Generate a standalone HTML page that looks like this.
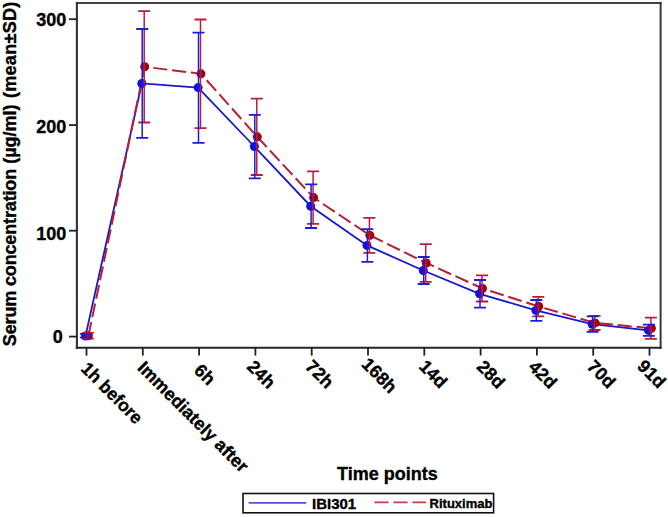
<!DOCTYPE html>
<html><head><meta charset="utf-8"><style>
html,body{margin:0;padding:0;background:#fff;}
body{width:668px;height:517px;overflow:hidden;}
svg{display:block;}
text{font-family:"Liberation Sans",sans-serif;font-weight:bold;fill:#000;stroke:#000;stroke-width:0.35px;}
.tk{font-size:18px;}
.yl{font-size:18px;}
.xl{font-size:18px;}
.l1{font-size:15px;}
.l2{font-size:13px;}
</style></head><body>
<svg width="668" height="517" viewBox="0 0 668 517">
<path d="M75.8,3.1H661.7" stroke="#444" stroke-width="2" fill="none"/>
<path d="M76.9,2.1V348.7" stroke="#333" stroke-width="2.1" fill="none"/>
<path d="M660.6,2.1V348.7" stroke="#383838" stroke-width="2" fill="none"/>
<path d="M75.8,347.8H661.6" stroke="#262626" stroke-width="2" fill="none"/>
<line x1="69" y1="19.2" x2="77" y2="19.2" stroke="#222" stroke-width="1.8"/>
<text x="66.2" y="25.5" text-anchor="end" class="tk">300</text>
<line x1="69" y1="125.1" x2="77" y2="125.1" stroke="#222" stroke-width="1.8"/>
<text x="66.2" y="132.7" text-anchor="end" class="tk">200</text>
<line x1="69" y1="230.7" x2="77" y2="230.7" stroke="#222" stroke-width="1.8"/>
<text x="66.2" y="239.7" text-anchor="end" class="tk">100</text>
<line x1="69" y1="336.6" x2="77" y2="336.6" stroke="#222" stroke-width="1.8"/>
<text x="62.8" y="343.2" text-anchor="end" class="tk">0</text>
<line x1="86.50" y1="347" x2="86.50" y2="355.6" stroke="#222" stroke-width="1.8"/>
<line x1="142.80" y1="347" x2="142.80" y2="355.6" stroke="#222" stroke-width="1.8"/>
<line x1="199.10" y1="347" x2="199.10" y2="355.6" stroke="#222" stroke-width="1.8"/>
<line x1="255.40" y1="347" x2="255.40" y2="355.6" stroke="#222" stroke-width="1.8"/>
<line x1="311.70" y1="347" x2="311.70" y2="355.6" stroke="#222" stroke-width="1.8"/>
<line x1="368.00" y1="347" x2="368.00" y2="355.6" stroke="#222" stroke-width="1.8"/>
<line x1="424.30" y1="347" x2="424.30" y2="355.6" stroke="#222" stroke-width="1.8"/>
<line x1="480.60" y1="347" x2="480.60" y2="355.6" stroke="#222" stroke-width="1.8"/>
<line x1="536.90" y1="347" x2="536.90" y2="355.6" stroke="#222" stroke-width="1.8"/>
<line x1="593.20" y1="347" x2="593.20" y2="355.6" stroke="#222" stroke-width="1.8"/>
<line x1="649.50" y1="347" x2="649.50" y2="355.6" stroke="#222" stroke-width="1.8"/>
<text transform="translate(83.50,358.00) rotate(45)" x="5.9" y="0" dy="10.7" class="tk" textLength="78.2" lengthAdjust="spacingAndGlyphs">1h before</text>
<text transform="translate(139.80,357.00) rotate(45)" x="5.9" y="0" dy="10.7" class="tk">Immediately after</text>
<text transform="translate(196.50,359.70) rotate(45)" x="5.9" y="0" dy="10.7" class="tk">6h</text>
<text transform="translate(249.40,356.00) rotate(45)" x="5.9" y="0" dy="10.7" class="tk">24h</text>
<text transform="translate(307.70,355.80) rotate(45)" x="5.9" y="0" dy="10.7" class="tk">72h</text>
<text transform="translate(364.00,353.50) rotate(45)" x="5.9" y="0" dy="10.7" class="tk">168h</text>
<text transform="translate(421.30,355.70) rotate(45)" x="5.9" y="0" dy="10.7" class="tk">14d</text>
<text transform="translate(479.10,356.00) rotate(45)" x="5.9" y="0" dy="10.7" class="tk">28d</text>
<text transform="translate(530.90,356.20) rotate(45)" x="5.9" y="0" dy="10.7" class="tk">42d</text>
<text transform="translate(589.50,355.80) rotate(45)" x="5.9" y="0" dy="10.7" class="tk">70d</text>
<text transform="translate(639.70,355.60) rotate(45)" x="5.9" y="0" dy="10.7" class="tk">91d</text>
<polyline points="85.50,336.00 141.80,83.45 198.10,87.60 254.40,146.50 310.70,206.20 367.00,245.40 423.30,270.50 479.60,293.80 535.90,310.40 592.20,324.20 648.50,330.40" stroke="#1818cc" stroke-width="1.8" fill="none"/>
<polyline points="88.40,335.80 144.70,66.80 201.00,73.85 257.30,136.85 313.60,197.60 369.90,235.35 426.20,262.95 482.50,288.45 538.80,306.55 595.10,322.90 651.40,328.30" stroke="#b8202e" stroke-width="2.0" fill="none" stroke-dasharray="14.1 4.8" stroke-dashoffset="0"/>
<circle cx="85.50" cy="336.00" r="4.5" fill="#1010d8"/>
<circle cx="141.80" cy="83.45" r="4.5" fill="#1010d8"/>
<circle cx="198.10" cy="87.60" r="4.5" fill="#1010d8"/>
<circle cx="254.40" cy="146.50" r="4.5" fill="#1010d8"/>
<circle cx="310.70" cy="206.20" r="4.5" fill="#1010d8"/>
<circle cx="367.00" cy="245.40" r="4.5" fill="#1010d8"/>
<circle cx="423.30" cy="270.50" r="4.5" fill="#1010d8"/>
<circle cx="479.60" cy="293.80" r="4.5" fill="#1010d8"/>
<circle cx="535.90" cy="310.40" r="4.5" fill="#1010d8"/>
<circle cx="592.20" cy="324.20" r="4.5" fill="#1010d8"/>
<circle cx="648.50" cy="330.40" r="4.5" fill="#1010d8"/>
<circle cx="88.40" cy="335.80" r="4.5" fill="#a00010"/>
<circle cx="144.70" cy="66.80" r="4.5" fill="#a00010"/>
<circle cx="201.00" cy="73.85" r="4.5" fill="#a00010"/>
<circle cx="257.30" cy="136.85" r="4.5" fill="#a00010"/>
<circle cx="313.60" cy="197.60" r="4.5" fill="#a00010"/>
<circle cx="369.90" cy="235.35" r="4.5" fill="#a00010"/>
<circle cx="426.20" cy="262.95" r="4.5" fill="#a00010"/>
<circle cx="482.50" cy="288.45" r="4.5" fill="#a00010"/>
<circle cx="538.80" cy="306.55" r="4.5" fill="#a00010"/>
<circle cx="595.10" cy="322.90" r="4.5" fill="#a00010"/>
<circle cx="651.40" cy="328.30" r="4.5" fill="#a00010"/>
<path d="M87.90,332.80V338.70" stroke="#bc1c38" stroke-width="1.5" fill="none"/>
<path d="M81.90,332.80H93.90M81.90,338.70H93.90" stroke="#bc1c38" stroke-width="1.8" fill="none"/>
<path d="M144.20,11.20V122.50" stroke="#bc1c38" stroke-width="1.5" fill="none"/>
<path d="M138.20,11.20H150.20M138.20,122.50H150.20" stroke="#bc1c38" stroke-width="1.8" fill="none"/>
<path d="M200.50,19.50V128.20" stroke="#bc1c38" stroke-width="1.5" fill="none"/>
<path d="M194.50,19.50H206.50M194.50,128.20H206.50" stroke="#bc1c38" stroke-width="1.8" fill="none"/>
<path d="M256.80,98.70V175.00" stroke="#bc1c38" stroke-width="1.5" fill="none"/>
<path d="M250.80,98.70H262.80M250.80,175.00H262.80" stroke="#bc1c38" stroke-width="1.8" fill="none"/>
<path d="M313.10,171.30V223.90" stroke="#bc1c38" stroke-width="1.5" fill="none"/>
<path d="M307.10,171.30H319.10M307.10,223.90H319.10" stroke="#bc1c38" stroke-width="1.8" fill="none"/>
<path d="M369.40,217.90V252.80" stroke="#bc1c38" stroke-width="1.5" fill="none"/>
<path d="M363.40,217.90H375.40M363.40,252.80H375.40" stroke="#bc1c38" stroke-width="1.8" fill="none"/>
<path d="M425.70,244.10V281.80" stroke="#bc1c38" stroke-width="1.5" fill="none"/>
<path d="M419.70,244.10H431.70M419.70,281.80H431.70" stroke="#bc1c38" stroke-width="1.8" fill="none"/>
<path d="M482.00,275.40V301.50" stroke="#bc1c38" stroke-width="1.5" fill="none"/>
<path d="M476.00,275.40H488.00M476.00,301.50H488.00" stroke="#bc1c38" stroke-width="1.8" fill="none"/>
<path d="M538.30,296.80V316.30" stroke="#bc1c38" stroke-width="1.5" fill="none"/>
<path d="M532.30,296.80H544.30M532.30,316.30H544.30" stroke="#bc1c38" stroke-width="1.8" fill="none"/>
<path d="M594.60,315.90V330.00" stroke="#bc1c38" stroke-width="1.5" fill="none"/>
<path d="M588.60,315.90H600.60M588.60,330.00H600.60" stroke="#bc1c38" stroke-width="1.8" fill="none"/>
<path d="M650.90,317.60V338.80" stroke="#bc1c38" stroke-width="1.5" fill="none"/>
<path d="M644.90,317.60H656.90M644.90,338.80H656.90" stroke="#bc1c38" stroke-width="1.8" fill="none"/>
<path d="M85.90,333.90V337.60" stroke="#1c1cdc" stroke-width="1.5" fill="none"/>
<path d="M79.90,333.90H91.90M79.90,337.60H91.90" stroke="#1c1cdc" stroke-width="1.8" fill="none"/>
<path d="M142.20,29.00V137.90" stroke="#1c1cdc" stroke-width="1.5" fill="none"/>
<path d="M136.20,29.00H148.20M136.20,137.90H148.20" stroke="#1c1cdc" stroke-width="1.8" fill="none"/>
<path d="M198.50,32.60V142.90" stroke="#1c1cdc" stroke-width="1.5" fill="none"/>
<path d="M192.50,32.60H204.50M192.50,142.90H204.50" stroke="#1c1cdc" stroke-width="1.8" fill="none"/>
<path d="M254.80,114.80V178.30" stroke="#1c1cdc" stroke-width="1.5" fill="none"/>
<path d="M248.80,114.80H260.80M248.80,178.30H260.80" stroke="#1c1cdc" stroke-width="1.8" fill="none"/>
<path d="M311.10,184.40V228.00" stroke="#1c1cdc" stroke-width="1.5" fill="none"/>
<path d="M305.10,184.40H317.10M305.10,228.00H317.10" stroke="#1c1cdc" stroke-width="1.8" fill="none"/>
<path d="M367.40,229.10V261.80" stroke="#1c1cdc" stroke-width="1.5" fill="none"/>
<path d="M361.40,229.10H373.40M361.40,261.80H373.40" stroke="#1c1cdc" stroke-width="1.8" fill="none"/>
<path d="M423.70,257.00V284.00" stroke="#1c1cdc" stroke-width="1.5" fill="none"/>
<path d="M417.70,257.00H429.70M417.70,284.00H429.70" stroke="#1c1cdc" stroke-width="1.8" fill="none"/>
<path d="M480.00,280.00V307.60" stroke="#1c1cdc" stroke-width="1.5" fill="none"/>
<path d="M474.00,280.00H486.00M474.00,307.60H486.00" stroke="#1c1cdc" stroke-width="1.8" fill="none"/>
<path d="M536.30,300.00V320.80" stroke="#1c1cdc" stroke-width="1.5" fill="none"/>
<path d="M530.30,300.00H542.30M530.30,320.80H542.30" stroke="#1c1cdc" stroke-width="1.8" fill="none"/>
<path d="M592.60,316.40V331.90" stroke="#1c1cdc" stroke-width="1.5" fill="none"/>
<path d="M586.60,316.40H598.60M586.60,331.90H598.60" stroke="#1c1cdc" stroke-width="1.8" fill="none"/>
<path d="M648.90,324.70V335.90" stroke="#1c1cdc" stroke-width="1.5" fill="none"/>
<path d="M642.90,324.70H654.90M642.90,335.90H654.90" stroke="#1c1cdc" stroke-width="1.8" fill="none"/>
<g transform="translate(15.6,346.2) rotate(-90)"><text x="0" class="yl" textLength="177.4" lengthAdjust="spacing">Serum concentration</text><text x="182.4" class="yl">(µg/ml)</text><text x="248.1" class="yl" textLength="96.4" lengthAdjust="spacing">(mean±SD)</text></g>
<text x="337" y="479.7" class="xl">Time points</text>
<rect x="243" y="493.5" width="250.6" height="19.3" fill="none" stroke="#111" stroke-width="1.6"/>
<line x1="248.6" y1="502.8" x2="306.3" y2="502.8" stroke="#5454d6" stroke-width="1.7"/>
<text x="312" y="508.6" class="l1">IBI301</text>
<line x1="374.4" y1="502.4" x2="426" y2="502.4" stroke="#c83c50" stroke-width="1.7" stroke-dasharray="14.2 4.8"/>
<text x="429.6" y="507.8" class="l2">Rituximab</text>
</svg>
</body></html>
